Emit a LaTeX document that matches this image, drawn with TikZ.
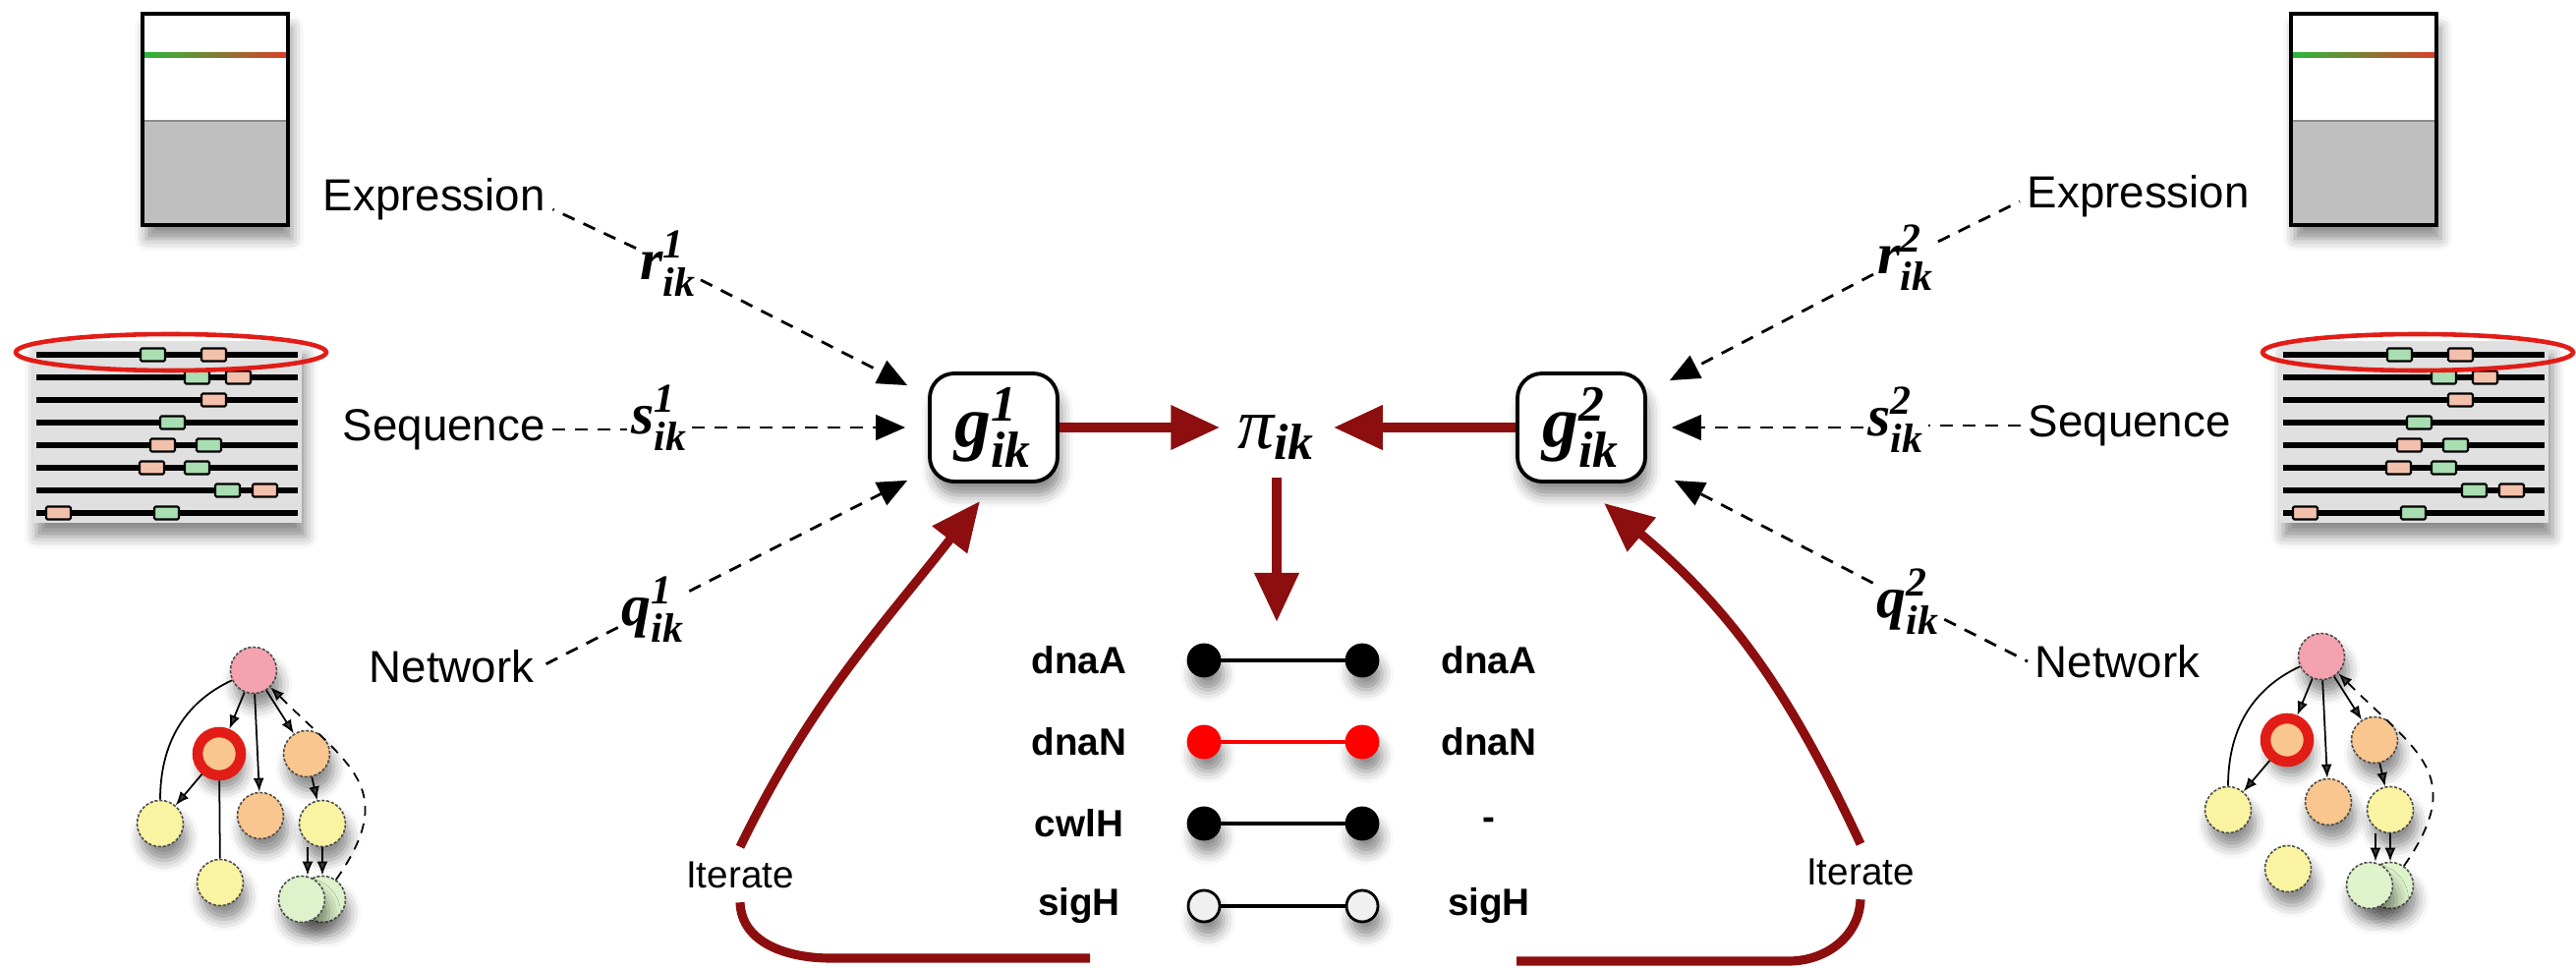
\documentclass[tikz,border=0pt]{standalone}
\usepackage{amsmath}
\usepackage{fontspec}
\setmainfont{Liberation Sans}
\newfontfamily\symfont{Liberation Serif}
\usetikzlibrary{arrows.meta}
\usetikzlibrary{shadows.blur}
\definecolor{loopred}{RGB}{140,14,14}
\definecolor{ringred}{RGB}{226,28,22}
\definecolor{nodepink}{RGB}{244,162,176}
\definecolor{nodeorange}{RGB}{248,198,142}
\definecolor{nodeyellow}{RGB}{250,243,162}
\definecolor{nodegreen}{RGB}{222,243,204}
\definecolor{boxgreen}{RGB}{168,222,178}
\definecolor{boxpink}{RGB}{243,192,172}
\definecolor{bargreen}{RGB}{40,185,60}
\definecolor{barred}{RGB}{220,62,40}

% score labels: letter with ik below and the organism index above
\newcommand{\symlab}[2]{{\symfont\bfseries\itshape\fontsize{17}{17}\selectfont #1$_{\text{ik}}^{\text{#2}}$}}
\newcommand{\glab}[1]{{\symfont\bfseries\itshape\fontsize{21}{21}\selectfont g$_{\text{ik}}^{\text{#1}}$}}

\tikzset{
  softshadow/.style={blur shadow={shadow xshift=0.4mm, shadow yshift=-1.4mm, shadow blur radius=1.2mm, shadow opacity=45}},
  srclab/.style={font=\fontsize{13}{15}\selectfont, inner sep=2pt},
  genelab/.style={font=\bfseries\fontsize{11}{13}\selectfont},
  itlab/.style={font=\fontsize{11}{13}\selectfont, inner sep=4pt},
  symlabel/.style={inner sep=1pt},
  gbox/.style={draw, line width=1.1pt, rounded corners=2.5mm, fill=white, minimum width=1.3cm, minimum height=1.1cm, softshadow},
  dashline/.style={line width=0.8pt, dash pattern=on 1.3mm off 1mm},
  dasharrow/.style={dashline, -{Triangle[length=3mm,width=2.6mm,fill=black,line width=0.4pt]}},
  bigarrow/.style={loopred, line width=2.9pt, -{Triangle[length=5mm,width=4.3mm]}},
  loopline/.style={loopred, line width=2.6pt},
  gdot/.style={circle, draw, line width=0.8pt, minimum size=0.32cm, inner sep=0pt, softshadow},
  netnode/.style={circle, draw=black!70, dash pattern=on 0.9pt off 0.5pt, line width=0.45pt, minimum size=0.47cm, inner sep=0pt, softshadow},
  netarrow/.style={line width=0.5pt, -{Latex[length=1.4mm,width=1.1mm]}},
  netline/.style={line width=0.5pt},
  seqbox/.style={draw, line width=0.6pt, rounded corners=0.4pt}
}

\begin{document}
\begin{tikzpicture}
\useasboundingbox (0,0) rectangle (26.21,-9.85);

% expression arrays
\foreach \xo in {1.45, 23.31} {
  \fill[white, softshadow] (\xo,-0.14) rectangle ++(1.48,-2.15);
  \fill[black!25] (\xo,-1.23) rectangle (\xo+1.48,-2.29);
  \draw[black!45, line width=0.5pt] (\xo,-1.23) -- ++(1.48,0);
  \shade[left color=bargreen, right color=barred] (\xo,-0.535) rectangle ++(1.48,-0.05);
  \draw[line width=1.2pt] (\xo,-0.14) rectangle ++(1.48,-2.15);
}

% aligned sequences with motif boxes
\foreach \xo in {0.37, 23.23} {
  \fill[black!12, softshadow] (\xo-0.04,-3.47) rectangle (\xo+2.70,-5.32);
  \foreach \r in {0,...,7}
    \draw[line width=1.5pt] (\xo,-3.61-0.23*\r) -- ++(2.66,0);
  \foreach \r/\bx/\c in {0/1.06/boxgreen, 0/1.68/boxpink, 1/1.51/boxgreen, 1/1.93/boxpink,
      2/1.68/boxpink, 3/1.26/boxgreen, 4/1.16/boxpink, 4/1.63/boxgreen, 5/1.05/boxpink,
      5/1.51/boxgreen, 6/1.82/boxgreen, 6/2.20/boxpink, 7/0.10/boxpink, 7/1.20/boxgreen}
    \draw[seqbox, fill=\c] (\xo+\bx,-3.545-0.23*\r) rectangle ++(0.25,-0.13);
  \draw[ringred, line width=1.3pt] (\xo+1.37,-3.585) ellipse (1.58 and 0.185);
}

% small interaction networks
\foreach \s/\px/\py in {1/2.58/-6.82, 2/23.62/-6.68} {
  \begin{scope}[shift={(\px,\py)}]
    \node[netnode, fill=nodegreen] (gb\s) at (0.70,-2.33) {};
    \node[netnode, fill=nodegreen] (ga\s) at (0.49,-2.33) {};
    \node[netnode, fill=nodepink] (pk\s) at (0,0) {};
    \node[netnode, fill=nodeorange, draw=ringred, solid, line width=3pt, minimum size=0.44cm] (rd\s) at (-0.35,-0.85) {};
    \node[netnode, fill=nodeorange] (orr\s) at (0.54,-0.85) {};
    \node[netnode, fill=nodeyellow] (yl\s) at (-0.95,-1.56) {};
    \node[netnode, fill=nodeorange] (orm\s) at (0.07,-1.48) {};
    \node[netnode, fill=nodeyellow] (yr\s) at (0.70,-1.56) {};
    \node[netnode, fill=nodeyellow] (yb\s) at (-0.34,-2.16) {};
  \end{scope}
  \draw[netarrow] (pk\s) -- (rd\s);
  \draw[netarrow] (pk\s) -- (orm\s);
  \draw[netarrow] (pk\s) -- (orr\s);
  \draw[netline] (pk\s) to[out=205, in=90] (yl\s);
  \draw[netarrow] (rd\s) -- (yl\s);
  \draw[netarrow] (orr\s) -- (yr\s);
  \draw[netarrow] ([xshift=-1.5mm]yr\s.south) -- ([xshift=-1.5mm]yr\s.south |- ga\s.north);
  \draw[netarrow] (yr\s.south) -- (yr\s.south |- gb\s.north);
  \draw[netarrow, dash pattern=on 1mm off 0.8mm] (gb\s) to[out=55, in=-45, looseness=1.4] (pk\s);
}
\draw[netline] (rd1) -- (yb1);

% data source labels
\node[srclab, anchor=west] (exprlab1) at (3.21,-2.03) {Expression};
\node[srclab, anchor=west] (seqlab1) at (3.41,-4.37) {Sequence};
\node[srclab, anchor=west] (netlab1) at (3.68,-6.78) {Network};
\node[srclab, anchor=west] (exprlab2) at (20.55,-2.00) {Expression};
\node[srclab, anchor=west] (seqlab2) at (20.56,-4.33) {Sequence};
\node[srclab, anchor=west] (netlab2) at (20.63,-6.73) {Network};

% per-source scores
\node[symlabel] (r1) at (6.80,-2.68) {\symlab{r}{1}};
\node[symlabel] (s1) at (6.71,-4.25) {\symlab{s}{1}};
\node[symlabel] (q1) at (6.65,-6.20) {\symlab{q}{1}};
\node[symlabel] (r2) at (19.39,-2.62) {\symlab{r}{2}};
\node[symlabel] (s2) at (19.29,-4.27) {\symlab{s}{2}};
\node[symlabel] (q2) at (19.42,-6.12) {\symlab{q}{2}};

% combined scores and the match
\node[gbox] (g1) at (10.11,-4.35) {\glab{1}};
\node[gbox] (g2) at (16.09,-4.35) {\glab{2}};
\node[inner sep=5pt] (pi) at (12.99,-4.45) {{\symfont\itshape\fontsize{21}{21}\selectfont π$_{\text{\bfseries ik}}$}};

% left inputs
\draw[dashline] (r1) -- ([yshift=-1mm]exprlab1.east);
\draw[dasharrow] (r1) -- ([xshift=-2.1mm,yshift=-1.4mm]g1.north west);
\draw[dashline] (seqlab1.east) -- (seqlab1.east -| s1.west);
\draw[dasharrow] (s1.east |- g1.west) -- ([xshift=-2.3mm]g1.west);
\draw[dashline] (q1) -- (netlab1.east);
\draw[dasharrow] (q1) -- ([xshift=-2.1mm,yshift=0.3mm]g1.south west);

% right inputs
\draw[dashline] (r2) -- ([yshift=-0.5mm]exprlab2.west);
\draw[dasharrow] (r2) -- ([xshift=2.3mm,yshift=-0.9mm]g2.north east);
\draw[dashline] (seqlab2.west) -- (seqlab2.west -| s2.east);
\draw[dasharrow] (s2.west |- g2.east) -- ([xshift=2.5mm]g2.east);
\draw[dashline] (q2) -- (netlab2.west);
\draw[dasharrow] (q2) -- ([xshift=2.8mm,yshift=0.3mm]g2.south east);

% into the match
\draw[bigarrow] (g1.east) -- (g1.east -| pi.west);
\draw[bigarrow] (g2.west) -- (g2.west -| pi.east);
\coordinate (hits) at (12.99,-6.33);
\draw[bigarrow] (pi.south) -- (hits);

% matched gene pairs
\foreach \n/\yy/\la/\lb/\col/\fl in {1/-6.72/dnaA/dnaA/black/black, 2/-7.55/dnaN/dnaN/red/red,
    3/-8.38/cwlH/-/black/black, 4/-9.22/sigH/sigH/black/black!6} {
  \node[genelab] (gl\n) at (10.98,\yy) {\la};
  \node[gdot, draw=\col, fill=\fl] (da\n) at (12.25,\yy) {};
  \node[gdot, draw=\col, fill=\fl] (db\n) at (13.86,\yy) {};
  \node[genelab] (gr\n) at (15.15,\yy) {\lb};
  \draw[\col, line width=0.9pt] (da\n) -- (db\n);
}

% iteration loops
\node[itlab] (it1) at (7.53,-8.90) {Iterate};
\coordinate (itbase1) at (11.09,-9.75);
\draw[loopline] (itbase1) -- (8.45,-9.75) to[out=180, in=-88] (it1.south);
\draw[loopline, -{Triangle[length=5mm,width=4.3mm]}] (it1.north) to[out=64, in=-128] ([xshift=-1.4mm,yshift=-1.8mm]g1.south);

\node[itlab] (it2) at (18.93,-8.87) {Iterate};
\coordinate (itbase2) at (15.43,-9.78);
\draw[loopline] (itbase2) -- (18.20,-9.78) to[out=0, in=-92] (it2.south);
\draw[loopline, -{Triangle[length=5mm,width=4.3mm]}] (it2.north) to[out=115, in=-40] ([xshift=2.3mm,yshift=-2mm]g2.south);

\end{tikzpicture}
\end{document}
